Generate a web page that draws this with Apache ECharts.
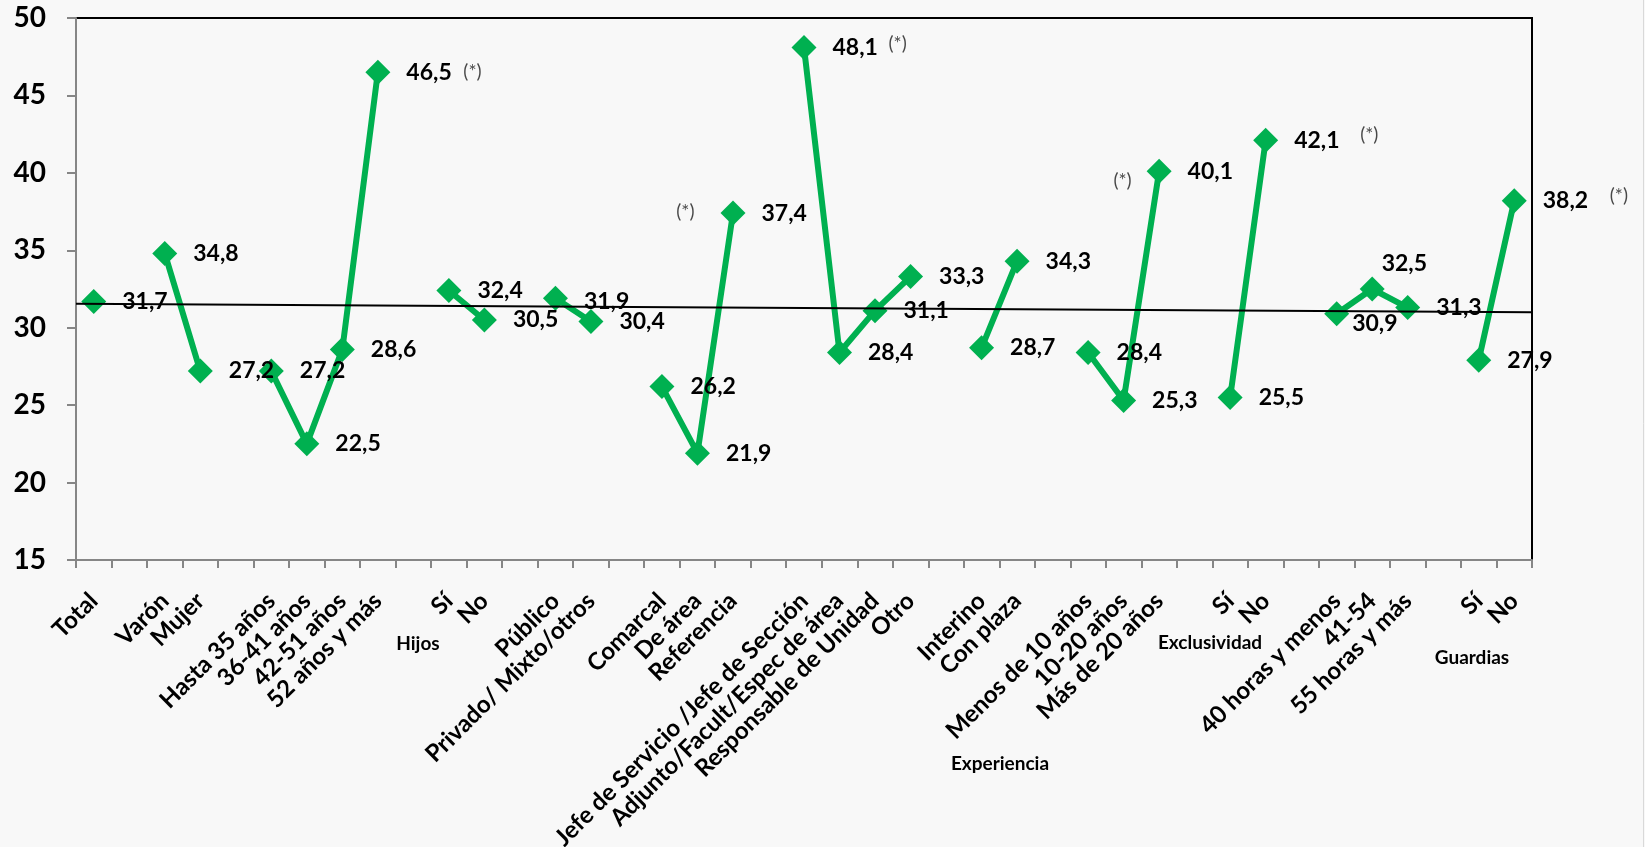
<!DOCTYPE html>
<html>
<head>
<meta charset="utf-8">
<script src="https://cdn.jsdelivr.net/npm/echarts@6/dist/echarts.min.js"></script>
<style>
  html, body { margin: 0; padding: 0; background: #f8f8f8; }
  #chart { width: 1645px; height: 847px; }
</style>
</head>
<body>
<div id="chart"></div>
<script>
// Categories along the axis; empty strings separate the groups
const categories = [
  'Total', '',
  'Varón', 'Mujer', '',
  'Hasta 35 años', '36-41 años', '42-51 años', '52 años y más', '',
  'Sí', 'No', '',
  'Público', 'Privado/ Mixto/otros', '',
  'Comarcal', 'De área', 'Referencia', '',
  'Jefe de Servicio /Jefe de Sección', 'Adjunto/Facult/Espec de área', 'Responsable de Unidad', 'Otro', '',
  'Interino', 'Con plaza', '',
  'Menos de 10 años', '10-20 años', 'Más de 20 años', '',
  'Sí', 'No', '',
  '40 horas y menos', '41-54', '55 horas y más', '',
  'Sí', 'No'
];

// Percentages per category (null = gap between groups)
const values = [
  31.7, null,
  34.8, 27.2, null,
  27.2, 22.5, 28.6, 46.5, null,
  32.4, 30.5, null,
  31.9, 30.4, null,
  26.2, 21.9, 37.4, null,
  48.1, 28.4, 31.1, 33.3, null,
  28.7, 34.3, null,
  28.4, 25.3, 40.1, null,
  25.5, 42.1, null,
  30.9, 32.5, 31.3, null,
  27.9, 38.2
];

// Category indices marked as significant with (*)
const starred = [8, 18, 20, 30, 33, 40];

// Group titles written under the axis
const groupTitles = ['Hijos', 'Experiencia', 'Exclusividad', 'Guardias'];

// Linear trend: value at the left and right edges of the plot
const trendEnds = [31.55, 31.0];

const yTicks = { min: 15, max: 50, step: 5 };

const GREEN = '#00b050';
const FONT = 'Lato, "Open Sans", "DejaVu Sans", sans-serif';

const fmt = v => v.toFixed(1).replace('.', ',');

// label nudges for crowded points
const labelNudge = { 35: [-13, 10], 36: [-19, -25], 13: [0, 3] };

const mainData = values.map((v, i) => {
  if (v === null) return null;
  const item = { value: v };
  if (labelNudge[i]) item.label = { offset: labelNudge[i] };
  return item;
});

// placement of the (*) marks relative to their points
const noteLayout = {
  8:  { pos: [86, 0],   align: 'left'  },
  20: { pos: [85, -3],  align: 'left'  },
  33: { pos: [95, -5],  align: 'left'  },
  40: { pos: [96, -4],  align: 'left'  },
  18: { pos: [-38, -1], align: 'right' },
  30: { pos: [-27, 10], align: 'right' }
};
const noteData = values.map((v, i) => {
  if (!starred.includes(i)) return null;
  const l = noteLayout[i];
  return {
    value: v,
    label: { position: l.pos, align: l.align }
  };
});

const groupPos = [[418, 644], [1000, 764], [1210, 643], [1472, 658]];

const chart = echarts.init(document.getElementById('chart'), null, { renderer: 'canvas' });

chart.setOption({
  backgroundColor: '#f8f8f8',
  animation: false,
  grid: {
    left: 76, right: 113, top: 18, bottom: 287,
    containLabel: false, outerBoundsMode: 'none',
    show: true, borderColor: '#000', borderWidth: 2, backgroundColor: 'transparent'
  },
  xAxis: [
    {
      type: 'category',
      data: categories,
      boundaryGap: true,
      axisLine: { lineStyle: { color: '#868686', width: 2 } },
      axisTick: { show: true, interval: 0, length: 8, lineStyle: { color: '#868686', width: 2 } },
      axisLabel: {
        interval: 0, rotate: 45, margin: 37,
        color: '#000', fontSize: 24, fontWeight: 'bold', fontFamily: FONT
      },
      splitLine: { show: false }
    },
    {
      type: 'value', min: 0, max: categories.length, show: false
    }
  ],
  yAxis: {
    type: 'value',
    min: yTicks.min, max: yTicks.max, interval: yTicks.step,
    axisLine: { show: true, lineStyle: { color: '#868686', width: 2 } },
    axisTick: { show: true, length: 9, lineStyle: { color: '#868686', width: 2 } },
    axisLabel: { margin: 30, color: '#000', fontSize: 28, fontWeight: 'bold', fontFamily: FONT },
    splitLine: { show: false }
  },
  series: [
    {
      name: 'valores',
      type: 'line',
      data: mainData,
      connectNulls: false,
      symbol: 'diamond',
      symbolSize: 25,
      showAllSymbol: true,
      lineStyle: { color: GREEN, width: 6 },
      itemStyle: { color: GREEN },
      label: {
        show: true, position: 'right', distance: 16,
        formatter: p => fmt(p.value),
        color: '#000', fontSize: 23, fontWeight: 'bold', fontFamily: FONT
      },
      z: 2
    },
    {
      name: 'tendencia',
      type: 'line',
      xAxisIndex: 1,
      data: [[0, trendEnds[0]], [categories.length, trendEnds[1]]],
      symbol: 'none',
      lineStyle: { color: '#000', width: 2 },
      z: 3,
      silent: true
    },
    {
      name: 'notas',
      type: 'scatter',
      data: noteData,
      symbol: 'circle',
      symbolSize: 1,
      itemStyle: { color: 'rgba(0,0,0,0)' },
      label: {
        show: true, formatter: '(*)', verticalAlign: 'middle',
        color: '#1a1a1a', fontSize: 19, fontFamily: FONT
      },
      z: 4
    }
  ],
  graphic: [
    ...groupTitles.map((t, i) => ({
      type: 'text',
      x: groupPos[i][0], y: groupPos[i][1],
      style: {
        text: t, fill: '#000', font: 'bold 19px ' + FONT,
        textAlign: 'center', textVerticalAlign: 'middle'
      }
    })),
    {
      type: 'line',
      shape: { x1: 1643.5, y1: 0, x2: 1643.5, y2: 847 },
      style: { stroke: '#d9d9d9', lineWidth: 1 }
    }
  ]
});
</script>
</body>
</html>
